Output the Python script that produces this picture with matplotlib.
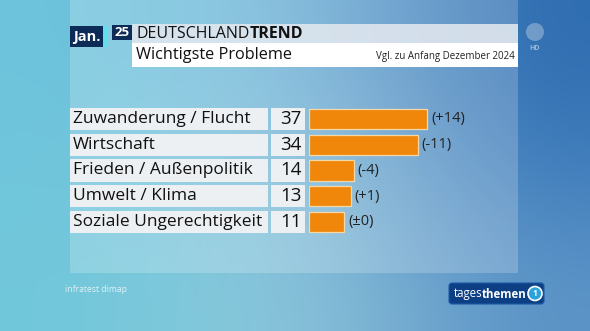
import numpy as np
import matplotlib
matplotlib.use("Agg")
import matplotlib.pyplot as plt
from matplotlib.patches import Rectangle, FancyBboxPatch, Circle
from matplotlib.colors import to_rgb
import matplotlib.transforms as mtransforms

# ---- data ----
categories = ["Zuwanderung / Flucht", "Wirtschaft", "Frieden / Außenpolitik",
              "Umwelt / Klima", "Soziale Ungerechtigkeit"]
values = [37, 34, 14, 13, 11]
changes = ["(+14)", "(-11)", "(-4)", "(+1)", "(±0)"]
title_month = "Jan."
title_year = "25"
title_main = "Wichtigste Probleme"
subtitle = "Vgl. zu Anfang Dezember 2024"
source = "infratest dimap"

FONT = "Open Sans"
W, H = 590, 331
fig = plt.figure(figsize=(W / 100, H / 100), dpi=100)
bg = fig.add_axes([0, 0, 1, 1])
bg.set_xlim(0, W)
bg.set_ylim(H, 0)
bg.axis("off")

# background gradient (3x3 colour grid, smoothly interpolated)
grid_hex = [["#6cc4dc", "#72b4d9", "#2d6bb0"],
            ["#6fc6dc", "#8cc4dc", "#3e7bbb"],
            ["#70c7da", "#95cadd", "#5a92c6"]]
grid = np.array([[to_rgb(c) for c in row] for row in grid_hex])
bg.imshow(grid, extent=(0, W, H, 0), interpolation="bicubic", aspect="auto", zorder=0)

# translucent panel
bg.add_patch(Rectangle((70, 0), 448, 273, facecolor="white", alpha=0.2,
                       edgecolor="none", zorder=1))

# header
bg.add_patch(Rectangle((70, 26), 33, 21, facecolor="#0d2b57", zorder=3))
bg.add_patch(Rectangle((103, 26), 5, 21, facecolor="#5fe0ea", zorder=3))
bg.text(86.5, 36.5, title_month, color="white", fontsize=10.5, fontweight="bold",
        family=FONT, ha="center", va="center", zorder=4)
bg.add_patch(Rectangle((112, 25), 20, 15, facecolor="#0d2b57", zorder=3))
bg.text(122, 32.5, title_year, color="white", fontsize=9.5, fontweight="bold",
        family=FONT, ha="center", va="center", zorder=4)
bg.add_patch(Rectangle((132, 24), 386, 19, facecolor="#dfe6ee", alpha=0.9, zorder=3))
bg.add_patch(Rectangle((132, 43), 386, 24, facecolor="white", zorder=3))
t1 = bg.text(136, 33.5, "DEUTSCHLAND", color="#111111", fontsize=11.5,
             family=FONT, ha="left", va="center", zorder=4)
bg.annotate("TREND", xycoords=t1, xy=(1, 0), va="bottom", ha="left",
            color="#111111", fontsize=11.5, fontweight="bold", family=FONT, zorder=4)
bg.text(136, 55, title_main, color="#111111", fontsize=11.7,
        family=FONT, ha="left", va="center", zorder=4)
bg.text(515, 56, subtitle, color="#222222", fontsize=7,
        family=FONT, ha="right", va="center", zorder=4)

# ARD HD logo
bg.add_patch(Circle((535, 32), 9, facecolor="white", alpha=0.3, edgecolor="none", zorder=3))
bg.text(535, 48, "HD", color="white", alpha=0.5, fontsize=5, fontweight="bold",
        family=FONT, ha="center", va="center", zorder=3)

# source
bg.text(65, 290, source, color="#dff1f7", fontsize=6.2, family=FONT,
        ha="left", va="center", zorder=3)

# tagesthemen logo
bg.add_patch(FancyBboxPatch((449, 283), 95, 21, boxstyle="round,pad=0,rounding_size=3",
                            facecolor="#0c3f84", edgecolor="#1b5aa5", linewidth=0.8, zorder=3))
t2 = bg.text(454, 294, "tages", color="white", fontsize=8.3, family=FONT,
             ha="left", va="center", zorder=4)
bg.annotate("themen", xycoords=t2, xy=(1, 0), xytext=(-0.6, 0), textcoords="offset points",
            va="bottom", ha="left",
            color="white", fontsize=8.3, fontweight="bold", family=FONT, zorder=4)
bg.add_patch(Circle((535, 293.5), 7, facecolor="#2aa3dc", edgecolor="white",
                    linewidth=1.2, zorder=4))
bg.text(535, 293.5, "1", color="white", fontsize=6, fontweight="bold",
        family=FONT, ha="center", va="center", zorder=5)

# ---- bar chart axes ----
x0_px, px_per_unit, xmax = 309, 3.2, 50
top_px, pitch = 106.1, 25.75
n = len(categories)
ax = fig.add_axes([x0_px / W, 1 - (top_px + pitch * n) / H,
                   px_per_unit * xmax / W, pitch * n / H])
ax.set_xlim(0, xmax)
ax.set_ylim(n - 0.5, -0.5)
ax.axis("off")
ax.patch.set_alpha(0)

ypos = np.arange(n)
ax.barh(ypos, values, height=0.78, color="#f0870a", edgecolor="#f6d8a6",
        linewidth=0.9, zorder=3)

trans = mtransforms.blended_transform_factory(bg.transData, ax.transData)
box_h = 0.86
for i, (cat, v, ch) in enumerate(zip(categories, values, changes)):
    ax.add_patch(Rectangle((70, i - box_h / 2), 198, box_h, transform=trans,
                           facecolor="#edf0f3", edgecolor="none", clip_on=False, zorder=2))
    ax.add_patch(Rectangle((271, i - box_h / 2), 34, box_h, transform=trans,
                           facecolor="#edf0f3", edgecolor="none", clip_on=False, zorder=2))
    ax.text(73, i, cat, transform=trans, fontsize=12.5, family=FONT, color="#111111",
            ha="left", va="center", clip_on=False, zorder=4)
    ax.text(302, i, str(v), transform=trans, fontsize=13.5, family=FONT, color="#111111",
            ha="right", va="center", clip_on=False, zorder=4)
    off = mtransforms.offset_copy(ax.transData, fig=fig, x=4, y=0, units="dots")
    ax.text(v, i, ch, transform=off, fontsize=10.5, family=FONT, color="#222222",
            ha="left", va="center", clip_on=False, zorder=4)

fig.savefig("out.png", dpi=100)
